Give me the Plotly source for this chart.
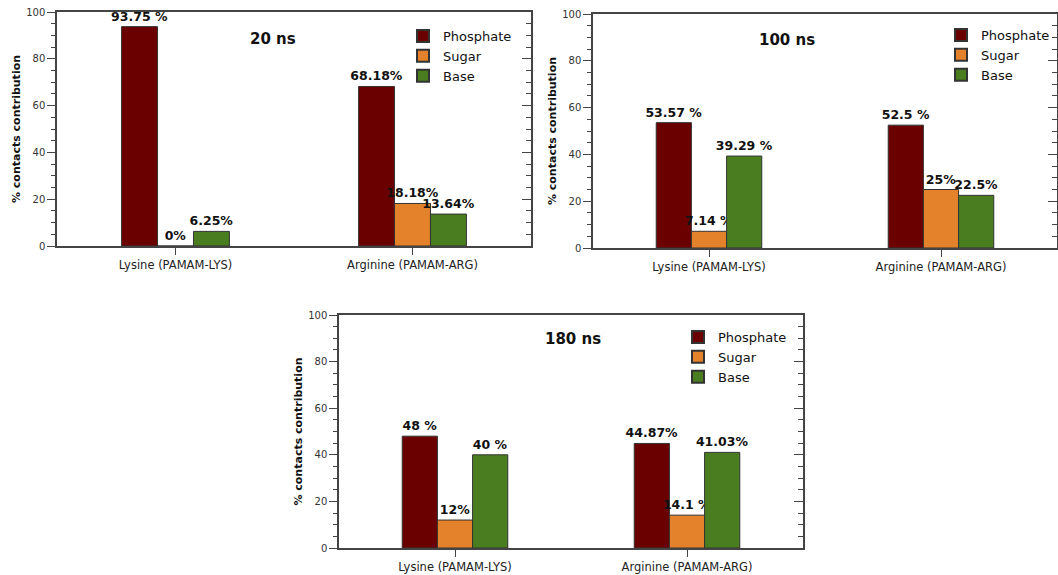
import plotly.graph_objects as go

categories = ["Lysine (PAMAM-LYS)", "Arginine (PAMAM-ARG)"]
series_names = ["Phosphate", "Sugar", "Base"]
colors = ["#6B0000", "#E3822A", "#4A7D1F"]
panel_titles = ["20 ns", "100 ns", "180 ns"]

# values[panel][series] -> [Lysine, Arginine]
values_20 = [[93.75, 68.18], [0.0, 18.18], [6.25, 13.64]]
values_100 = [[53.57, 52.5], [7.14, 25.0], [39.29, 22.5]]
values_180 = [[48.0, 44.87], [12.0, 14.1], [40.0, 41.03]]

labels_20 = [["93.75 %", "68.18%"], ["0%", "18.18%"], ["6.25%", "13.64%"]]
labels_100 = [["53.57 %", "52.5 %"], ["7.14 %", "25%"], ["39.29 %", "22.5%"]]
labels_180 = [["48 %", "44.87%"], ["12%", "14.1 %"], ["40 %", "41.03%"]]

panel_values = [values_20, values_100, values_180]
panel_labels = [labels_20, labels_100, labels_180]

W, H = 1058, 575
# plot-area pixel boxes: left, right, top, bottom
boxes = [(57, 531, 12, 246), (593, 1057, 14, 248), (339, 803, 315, 548)]
legend_pos = [(403, 21), (941, 20), (678, 322)]
title_pos = [(248, 28), (817, 29), (573, 339)]

fig = go.Figure()
FONT = "DejaVu Sans"
AX = "#444444"

for p in range(3):
    sfx = "" if p == 0 else str(p + 1)
    rsfx = str(p + 4)  # right-side overlay axis with inward ticks
    lg = "legend" + sfx
    for s in range(3):
        fig.add_trace(go.Bar(
            x=categories, y=panel_values[p][s], name=series_names[s],
            text=panel_labels[p][s], textposition="outside",
            constraintext="none", cliponaxis=False,
            textfont=dict(family=FONT, size=12.5, color="#111", weight="bold"),
            marker=dict(color=colors[s], line=dict(color="#333333", width=1)),
            xaxis="x" + sfx, yaxis="y" + sfx, legend=lg,
            hoverinfo="skip",
        ))
    # empty helper trace so the right-hand tick axis is drawn
    fig.add_trace(go.Scatter(x=categories, y=[None, None], mode="markers", showlegend=False,
                             hoverinfo="skip", xaxis="x" + sfx, yaxis="y" + rsfx))
    l, r, t, b = boxes[p]
    xd = [l / W, min(r / W, 1.0)]
    yd = [1 - b / H, 1 - t / H]
    line_common = dict(showline=True, linecolor=AX, linewidth=1.5, automargin=False,
                       tickcolor=AX, showgrid=False, zeroline=False)
    fig.update_layout(**{
        "xaxis" + sfx: dict(domain=xd, anchor="y" + sfx, range=[-0.5, 1.5], ticklen=7, mirror=True,
                            ticks="outside",
                            tickfont=dict(family=FONT, size=11.5, color="#222"),
                            **line_common),
        "yaxis" + sfx: dict(domain=yd, anchor="x" + sfx, range=[0, 100], dtick=20, ticklen=8,
                            ticks="outside", mirror=True,
                            tickfont=dict(family=FONT, size=10, color="#333"),
                            minor=dict(dtick=5, ticks="outside", ticklen=4, tickcolor=AX),
                            title=dict(text="% contacts contribution", standoff=3,
                                       font=dict(family=FONT, size=11, color="#111", weight="bold")),
                            **line_common),
        "yaxis" + rsfx: dict(overlaying="y" + sfx, side="right", anchor="x" + sfx, range=[0, 100],
                             dtick=20, ticks="inside", ticklen=9, showticklabels=False,
                             minor=dict(dtick=5, ticks="inside", ticklen=5, tickcolor=AX),
                             **line_common),
        lg: dict(x=legend_pos[p][0] / W, y=1 - legend_pos[p][1] / H, xanchor="left", yanchor="top",
                 bgcolor="rgba(0,0,0,0)", font=dict(family=FONT, size=13, color="#111"),
                 tracegroupgap=0, itemsizing="constant"),
    })
    fig.add_annotation(x=title_pos[p][0] / W, y=1 - title_pos[p][1] / H, xref="paper", yref="paper",
                       text="<b>" + panel_titles[p] + "</b>", showarrow=False,
                       font=dict(family=FONT, size=15, color="#111"))

fig.update_layout(width=W, height=H, margin=dict(l=0, r=0, t=0, b=0),
                  barmode="group", bargap=0.545, bargroupgap=0,
                  plot_bgcolor="white", paper_bgcolor="white", showlegend=True)

fig.write_html("out.html")
